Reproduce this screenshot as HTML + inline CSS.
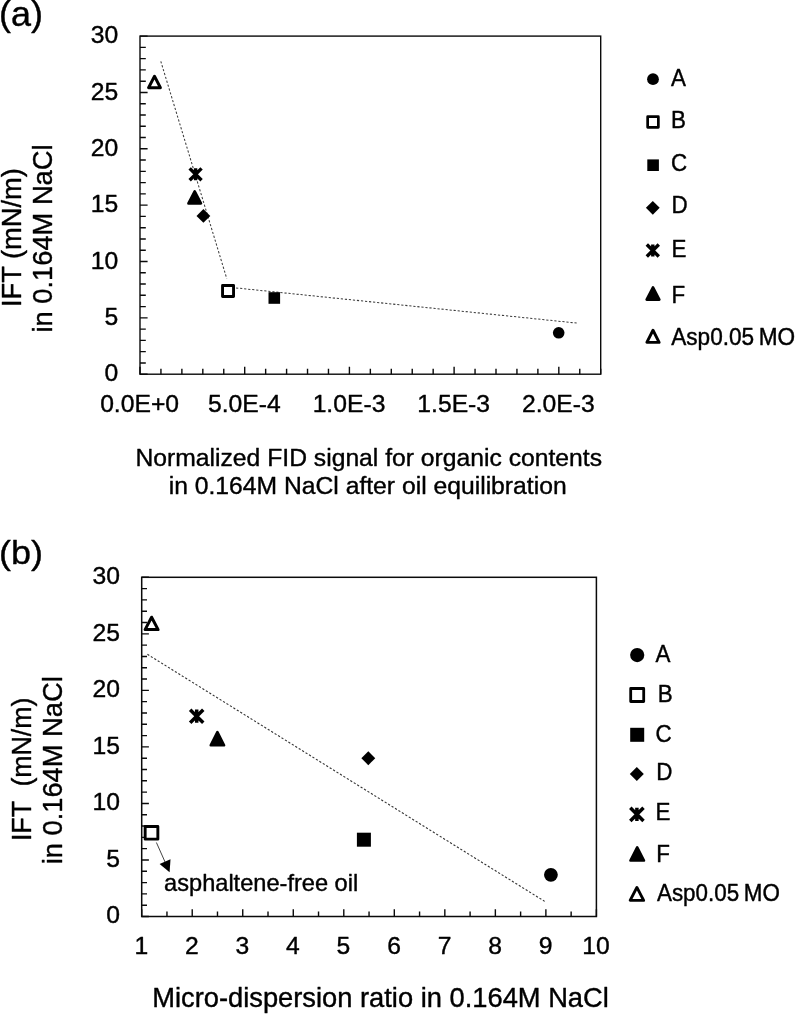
<!DOCTYPE html>
<html lang="en">
<head>
<meta charset="utf-8">
<title>IFT vs organic content and micro-dispersion ratio</title>
<style>
html,body{margin:0;padding:0;background:#fff;}
body{width:795px;height:1014px;overflow:hidden;}
svg{display:block;will-change:transform;}
svg text{font-family:"Liberation Sans", Arial, Helvetica, sans-serif;fill:#000;white-space:pre;stroke:#000;stroke-width:0.4px;stroke-linejoin:round;}
</style>
</head>
<body>
<svg width="795" height="1014" viewBox="0 0 795 1014">
<rect width="795" height="1014" fill="#fff"/>
<g id="panelA">
<rect x="140.0" y="36.1" width="460.70" height="338.10" fill="none" stroke="#0a0a0a" stroke-width="1.4"/>
<path d="M140.0 374.20h7.6M140.0 362.93h5.8M140.0 351.66h5.8M140.0 340.39h5.8M140.0 329.12h5.8M140.0 317.85h7.6M140.0 306.58h5.8M140.0 295.31h5.8M140.0 284.04h5.8M140.0 272.77h5.8M140.0 261.50h7.6M140.0 250.23h5.8M140.0 238.96h5.8M140.0 227.69h5.8M140.0 216.42h5.8M140.0 205.15h7.6M140.0 193.88h5.8M140.0 182.61h5.8M140.0 171.34h5.8M140.0 160.07h5.8M140.0 148.80h7.6M140.0 137.53h5.8M140.0 126.26h5.8M140.0 114.99h5.8M140.0 103.72h5.8M140.0 92.45h7.6M140.0 81.18h5.8M140.0 69.91h5.8M140.0 58.64h5.8M140.0 47.37h5.8M140.0 36.10h7.6M140.00 374.2v-7.4M160.94 374.2v-5.4M181.88 374.2v-5.4M202.82 374.2v-5.4M223.76 374.2v-5.4M244.70 374.2v-7.4M265.65 374.2v-5.4M286.59 374.2v-5.4M307.53 374.2v-5.4M328.47 374.2v-5.4M349.41 374.2v-7.4M370.35 374.2v-5.4M391.29 374.2v-5.4M412.23 374.2v-5.4M433.17 374.2v-5.4M454.11 374.2v-7.4M475.05 374.2v-5.4M496.00 374.2v-5.4M516.94 374.2v-5.4M537.88 374.2v-5.4M558.82 374.2v-7.4M579.76 374.2v-5.4M600.70 374.2v-5.4" stroke="#0a0a0a" stroke-width="1.4" fill="none"/>
<path d="M160.8 61.3L226.8 278.7" stroke="#3c3c3c" stroke-width="1.05" stroke-dasharray="2.2 1.85" fill="none"/>
<path d="M228 287.1L578 323.2" stroke="#3c3c3c" stroke-width="1.05" stroke-dasharray="2.2 1.85" fill="none"/>
<path d="M154.5 76.25L160.45 87.75L148.55 87.75Z" fill="#fff" stroke="#000" stroke-width="2.9" stroke-linejoin="round"/>
<g stroke="#000" stroke-width="3.4" fill="none"><path d="M189.65 168.35L201.55 180.25M189.65 180.25L201.55 168.35M195.6 168.35L195.6 180.25"/></g>
<path d="M194.7 191.30L200.95 203.40L188.45 203.40Z" fill="#000" stroke="#000" stroke-width="2.6" stroke-linejoin="round"/>
<path d="M203.4 209.0L210.3 215.9L203.4 222.8L196.5 215.9Z" fill="#000"/>
<rect x="222.55" y="285.50" width="11.00" height="11.00" fill="#fff" stroke="#000" stroke-width="2.9" stroke-linejoin="round"/>
<rect x="268.50" y="292.20" width="11.6" height="11.6" fill="#000"/>
<circle cx="558.7" cy="332.8" r="5.80" fill="#000"/>
<text x="118.2" y="381.4" font-size="24.7" text-anchor="end">0</text>
<text x="118.2" y="325.05" font-size="24.7" text-anchor="end">5</text>
<text x="118.2" y="268.7" font-size="24.7" text-anchor="end">10</text>
<text x="118.2" y="212.35" font-size="24.7" text-anchor="end">15</text>
<text x="118.2" y="156.0" font-size="24.7" text-anchor="end">20</text>
<text x="118.2" y="99.65" font-size="24.7" text-anchor="end">25</text>
<text x="118.2" y="43.3" font-size="24.7" text-anchor="end">30</text>
<text x="139.6" y="412" font-size="24.7" text-anchor="middle">0.0E+0</text>
<text x="244.3" y="412" font-size="24.7" text-anchor="middle">5.0E-4</text>
<text x="349.01" y="412" font-size="24.7" text-anchor="middle">1.0E-3</text>
<text x="453.71" y="412" font-size="24.7" text-anchor="middle">1.5E-3</text>
<text x="558.42" y="412" font-size="24.7" text-anchor="middle">2.0E-3</text>
<text x="368.75" y="465.5" font-size="24.7" text-anchor="middle">Normalized FID signal for organic contents</text>
<text x="367.65" y="493.8" font-size="24.7" text-anchor="middle">in 0.164M NaCl after oil equilibration</text>
<text transform="translate(20.7 237.6) rotate(-90)" font-size="27.3" text-anchor="middle">IFT (mN/m)</text>
<text transform="translate(52.0 238.5) rotate(-90)" font-size="27.3" text-anchor="middle">in 0.164M NaCl</text>
<circle cx="653" cy="79.2" r="5.90" fill="#000"/>
<rect x="647.65" y="116.65" width="10.70" height="10.70" fill="#fff" stroke="#000" stroke-width="2.7" stroke-linejoin="round"/>
<rect x="647.30" y="159.40" width="11.6" height="11.6" fill="#000"/>
<path d="M652.8 200.9L659.6999999999999 207.8L652.8 214.70000000000002L645.9 207.8Z" fill="#000"/>
<g stroke="#000" stroke-width="3.4" fill="none"><path d="M646.80 244.50L658.80 256.50M646.80 256.50L658.80 244.50M652.8 244.50L652.8 256.50"/></g>
<path d="M653 287.30L659.35 299.60L646.65 299.60Z" fill="#000" stroke="#000" stroke-width="2.6" stroke-linejoin="round"/>
<path d="M653 330.25L659.15 342.35L646.85 342.35Z" fill="#fff" stroke="#000" stroke-width="2.9" stroke-linejoin="round"/>
<text transform="translate(671.0 86.05) scale(1 1.035)" font-size="22.4">A</text>
<text transform="translate(670.9 128.3) scale(1 1.035)" font-size="22.4">B</text>
<text transform="translate(671.1 171.4) scale(1 1.035)" font-size="22.4">C</text>
<text transform="translate(671.4 213.3) scale(1 1.035)" font-size="22.4">D</text>
<text transform="translate(671.5 256.7) scale(1 1.035)" font-size="22.4">E</text>
<text transform="translate(671.6 303.0) scale(1 1.035)" font-size="22.4">F</text>
<text transform="translate(671.2 344.6) scale(1 1.03)" font-size="22.6">Asp0.05 <tspan dx="-1.7">MO</tspan></text>
<text transform="translate(-0.9 25.6) scale(1 0.95)" font-size="36">(a)</text>
</g>
<g id="panelB">
<rect x="141.7" y="577.3" width="454.70" height="339.20" fill="none" stroke="#0a0a0a" stroke-width="1.5"/>
<path d="M141.7 916.50h7.2M141.7 905.19h5.3M141.7 893.89h5.3M141.7 882.58h5.3M141.7 871.27h5.3M141.7 859.97h7.2M141.7 848.66h5.3M141.7 837.35h5.3M141.7 826.05h5.3M141.7 814.74h5.3M141.7 803.43h7.2M141.7 792.13h5.3M141.7 780.82h5.3M141.7 769.51h5.3M141.7 758.21h5.3M141.7 746.90h7.2M141.7 735.59h5.3M141.7 724.29h5.3M141.7 712.98h5.3M141.7 701.67h5.3M141.7 690.37h7.2M141.7 679.06h5.3M141.7 667.75h5.3M141.7 656.45h5.3M141.7 645.14h5.3M141.7 633.83h7.2M141.7 622.53h5.3M141.7 611.22h5.3M141.7 599.91h5.3M141.7 588.61h5.3M141.7 577.30h7.2M141.70 916.5v-7.2M166.96 916.5v-5.0M192.22 916.5v-7.2M217.48 916.5v-5.0M242.74 916.5v-7.2M268.01 916.5v-5.0M293.27 916.5v-7.2M318.53 916.5v-5.0M343.79 916.5v-7.2M369.05 916.5v-5.0M394.31 916.5v-7.2M419.57 916.5v-5.0M444.83 916.5v-7.2M470.09 916.5v-5.0M495.36 916.5v-7.2M520.62 916.5v-5.0M545.88 916.5v-7.2M571.14 916.5v-5.0M596.40 916.5v-7.2" stroke="#0a0a0a" stroke-width="1.4" fill="none"/>
<path d="M147.4 654.3L544.7 901.4" stroke="#333" stroke-width="1.1" stroke-dasharray="2.2 1.85" fill="none"/>
<path d="M151.6 617.20L158.10 629.60L145.10 629.60Z" fill="#fff" stroke="#000" stroke-width="3.0" stroke-linejoin="round"/>
<g stroke="#000" stroke-width="3.5" fill="none"><path d="M190.14 709.64L203.26 722.76M190.14 722.76L203.26 709.64M196.7 709.60L196.7 722.80"/></g>
<path d="M217.4 732.20L224.05 745.30L210.75 745.30Z" fill="#000" stroke="#000" stroke-width="2.6" stroke-linejoin="round"/>
<path d="M368.3 751.25L375.25 758.2L368.3 765.1500000000001L361.35 758.2Z" fill="#000"/>
<rect x="356.90" y="832.70" width="14.0" height="14.0" fill="#000"/>
<circle cx="550.9" cy="874.8" r="6.90" fill="#000"/>
<rect x="145.15" y="826.45" width="12.70" height="12.70" fill="#fff" stroke="#000" stroke-width="2.9" stroke-linejoin="round"/>
<path d="M156.4 842.5L165.5 863" stroke="#222" stroke-width="0.85" fill="none"/>
<path d="M169.6 872.3L159.6 864.1L170.5 859.3Z" fill="#000"/>
<text x="164.1" y="890.6" font-size="23.6" text-anchor="start">asphaltene-free oil</text>
<text x="119.9" y="923.2" font-size="24.7" text-anchor="end">0</text>
<text x="119.9" y="866.67" font-size="24.7" text-anchor="end">5</text>
<text x="119.9" y="810.13" font-size="24.7" text-anchor="end">10</text>
<text x="119.9" y="753.6" font-size="24.7" text-anchor="end">15</text>
<text x="119.9" y="697.07" font-size="24.7" text-anchor="end">20</text>
<text x="119.9" y="640.53" font-size="24.7" text-anchor="end">25</text>
<text x="119.9" y="584.0" font-size="24.7" text-anchor="end">30</text>
<text x="141.4" y="953.7" font-size="24.7" text-anchor="middle">1</text>
<text x="191.92" y="953.7" font-size="24.7" text-anchor="middle">2</text>
<text x="242.44" y="953.7" font-size="24.7" text-anchor="middle">3</text>
<text x="292.97" y="953.7" font-size="24.7" text-anchor="middle">4</text>
<text x="343.49" y="953.7" font-size="24.7" text-anchor="middle">5</text>
<text x="394.01" y="953.7" font-size="24.7" text-anchor="middle">6</text>
<text x="444.53" y="953.7" font-size="24.7" text-anchor="middle">7</text>
<text x="495.06" y="953.7" font-size="24.7" text-anchor="middle">8</text>
<text x="545.58" y="953.7" font-size="24.7" text-anchor="middle">9</text>
<text x="596.1" y="953.7" font-size="24.7" text-anchor="middle">10</text>
<text x="152.2" y="1007.4" font-size="27.3" text-anchor="start">Micro-dispersion ratio in 0.164M NaCl</text>
<text transform="translate(30.8 769.3) rotate(-90) scale(0.98 1)" font-size="27.3" text-anchor="middle">IFT  (mN/m)</text>
<text transform="translate(62.3 770.3) rotate(-90)" font-size="27.3" text-anchor="middle">in 0.164M NaCl</text>
<circle cx="637.2" cy="655.1" r="7.10" fill="#000"/>
<rect x="630.70" y="688.50" width="13.00" height="13.00" fill="#fff" stroke="#000" stroke-width="2.8" stroke-linejoin="round"/>
<rect x="630.20" y="727.80" width="14.0" height="14.0" fill="#000"/>
<path d="M636.8 767.0L643.8 774L636.8 781.0L629.8 774Z" fill="#000"/>
<g stroke="#000" stroke-width="3.5" fill="none"><path d="M630.29 807.69L643.51 820.91M630.29 820.91L643.51 807.69M636.9 807.65L636.9 820.95"/></g>
<path d="M637.2 847.40L643.95 860.50L630.45 860.50Z" fill="#000" stroke="#000" stroke-width="2.6" stroke-linejoin="round"/>
<path d="M636.9 887.45L643.65 900.35L630.15 900.35Z" fill="#fff" stroke="#000" stroke-width="2.9" stroke-linejoin="round"/>
<text transform="translate(655.4 662.2) scale(1 1.035)" font-size="22.4">A</text>
<text transform="translate(657.8 702.4) scale(1 1.035)" font-size="22.4">B</text>
<text transform="translate(655.6 742.1) scale(1 1.035)" font-size="22.4">C</text>
<text transform="translate(656.3 780.4) scale(1 1.035)" font-size="22.4">D</text>
<text transform="translate(655.5 819.8) scale(1 1.035)" font-size="22.4">E</text>
<text transform="translate(656.3 861.8) scale(1 1.035)" font-size="22.4">F</text>
<text transform="translate(657.0 901.4) scale(1 1.035)" font-size="22.4">Asp0.05 <tspan dx="-1.5">MO</tspan></text>
<text transform="translate(-0.9 564.3) scale(1 0.92)" font-size="36">(b)</text>
</g>
</svg>
</body>
</html>
